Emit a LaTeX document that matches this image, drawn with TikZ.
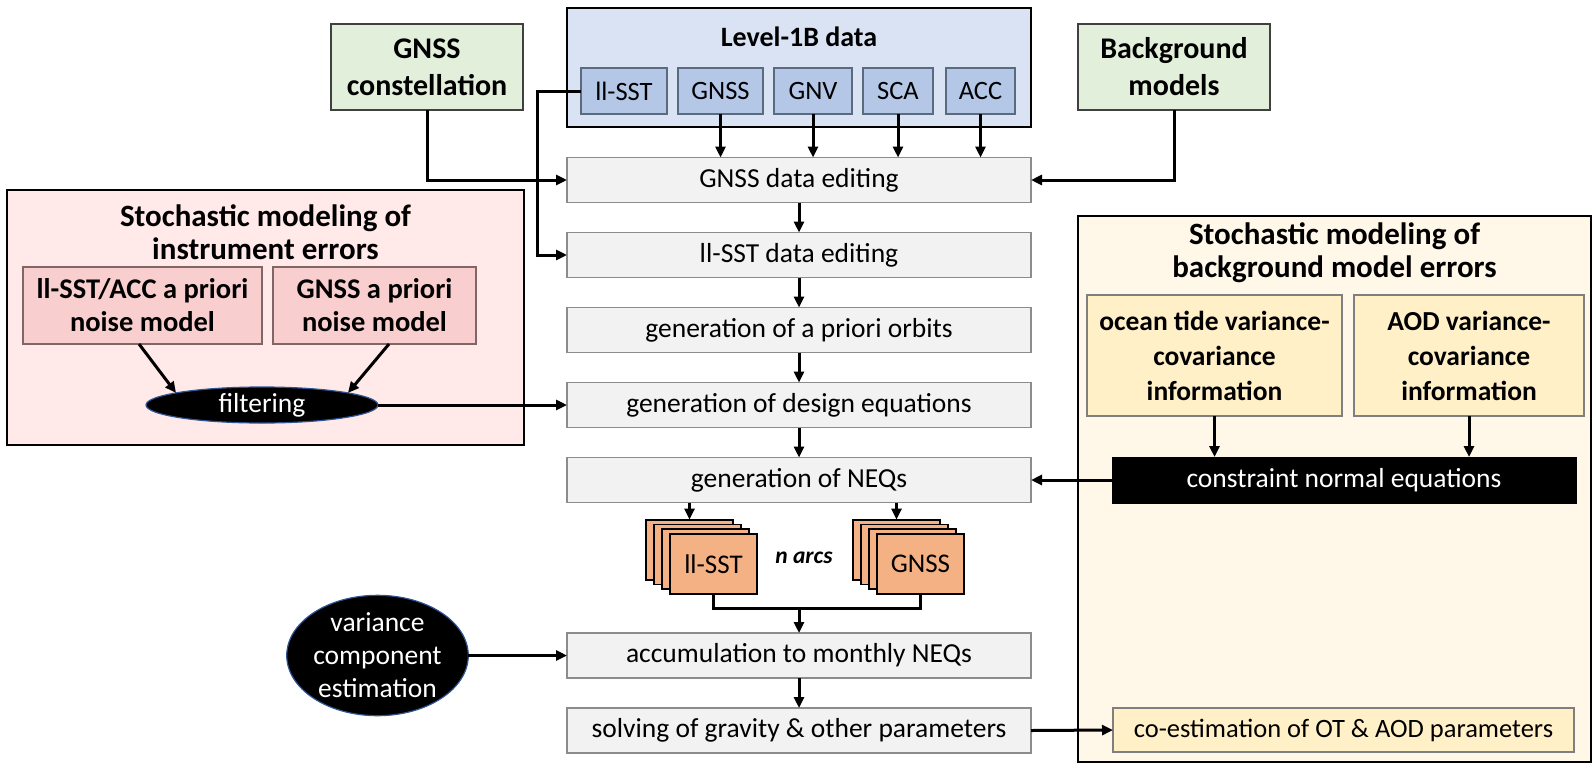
\documentclass[tikz,border=0pt]{standalone}
\usepackage{fontspec}
\setmainfont{Carlito}
\usetikzlibrary{arrows.meta,shapes.geometric}
\definecolor{greenF}{HTML}{E2EFDA}
\definecolor{blueOut}{HTML}{DAE3F3}
\definecolor{blueIn}{HTML}{B4C7E7}
\definecolor{blueLine}{HTML}{5A6B80}
\definecolor{grayF}{HTML}{F2F2F2}
\definecolor{grayLine}{HTML}{8C8C8C}
\definecolor{pinkOut}{HTML}{FFE9E9}
\definecolor{pinkIn}{HTML}{F9CECE}
\definecolor{pinkLine}{HTML}{806666}
\definecolor{yelOut}{HTML}{FFF7E8}
\definecolor{yelIn}{HTML}{FFF0C8}
\definecolor{yelLine}{HTML}{7F7F7F}
\definecolor{orangeF}{HTML}{F4B183}
\definecolor{ellLine}{HTML}{2F5597}
\tikzset{
  box/.style={rectangle,inner sep=0pt,outer sep=0pt,align=center},
  txt/.style={font=\fontsize{27.5}{32}\selectfont},
  btitle/.style={font=\bfseries\fontsize{31}{33}\selectfont},
  greenbox/.style={box,fill=greenF,draw=black!75,line width=1.3pt,font=\bfseries\fontsize{30}{37}\selectfont},
  bluebox/.style={box,fill=blueIn,draw=blueLine,line width=1.2pt,font=\fontsize{26.5}{30}\selectfont},
  graybox/.style={box,fill=grayF,draw=grayLine,line width=1.4pt,minimum width=464,minimum height=45,txt},
  pinkbox/.style={box,fill=pinkIn,draw=pinkLine,line width=1.1pt,font=\bfseries\fontsize{28.5}{33}\selectfont},
  yelbox/.style={box,fill=yelIn,draw=yelLine,line width=1.1pt,font=\bfseries\fontsize{27.5}{35}\selectfont},
  blackbox/.style={box,fill=black,draw=black,text=white,txt},
  blackell/.style={ellipse,inner sep=0pt,outer sep=0pt,fill=black,draw=ellLine,line width=1.2pt,text=white,align=center,font=\fontsize{27.5}{33}\selectfont},
  orbox/.style={box,fill=orangeF,draw=black,line width=1.8pt,minimum width=87,minimum height=60,font=\fontsize{27}{32}\selectfont},
  arr/.style={line width=3pt,-{Triangle[length=11pt,width=10pt]}},
  ln/.style={line width=3pt}
}
\begin{document}
\begin{tikzpicture}[x=1pt,y=-1pt]
\useasboundingbox (0,0) rectangle (1594,763);
% frames
\node[box,fill=pinkOut,draw=black,line width=1.6pt,minimum width=517,minimum height=255] (pinkframe) at (265.5,317.5) {};
\node[btitle,align=center] (pinktitle) at (265.5,232.5) {Stochastic modeling of\\instrument errors};
\node[box,fill=yelOut,draw=black,line width=1.6pt,minimum width=513,minimum height=546] (yelframe) at (1334.5,489) {};
\node[btitle,align=center] (yeltitle) at (1334.5,253) {Stochastic modeling of\\background model errors};
\node[box,fill=blueOut,draw=black,line width=1.8pt,minimum width=464,minimum height=119] (l1b) at (799,67.5) {};
\node[font=\bfseries\fontsize{28}{32}\selectfont] (l1btitle) at (799,37) {Level-1B data};
% top inputs
\node[greenbox,minimum width=192,minimum height=86] (gc) at (427,67) {GNSS\\constellation};
\node[greenbox,minimum width=192,minimum height=86] (bg) at (1174,67) {Background\\models};
\node[bluebox,minimum width=86,minimum height=46] (bsst) at (624,91) {ll-SST};
\node[bluebox,minimum width=85,minimum height=46] (bgnss) at (720.5,91) {GNSS};
\node[bluebox,minimum width=78,minimum height=46] (bgnv) at (813,91) {GNV};
\node[bluebox,minimum width=70,minimum height=46] (bsca) at (898,91) {SCA};
\node[bluebox,minimum width=69,minimum height=46] (bacc) at (980.5,91) {ACC};
% main chain
\node[graybox] (ged) at (799,180) {GNSS data editing};
\node[graybox] (sed) at (799,255) {ll-SST data editing};
\node[graybox] (orb) at (799,330) {generation of a priori orbits};
\node[graybox] (des) at (799,405) {generation of design equations};
\node[graybox] (neq) at (799,480) {generation of NEQs};
\node[graybox] (acc) at (799,655.5) {accumulation to monthly NEQs};
\node[graybox] (sol) at (799,730.5) {solving of gravity \& other parameters};
% stacks
\node[orbox] (s3) at (689.5,549.6) {};
\node[orbox] (s2) at (697.5,554.4) {};
\node[orbox] (s1) at (705.5,559.2) {};
\node[orbox] (s0) at (713.5,564) {ll-SST};
\node[orbox] (g3) at (896.5,549.6) {};
\node[orbox] (g2) at (904.5,554.4) {};
\node[orbox] (g1) at (912.5,559.2) {};
\node[orbox] (g0) at (920.5,564) {GNSS};
\node[font=\bfseries\itshape\fontsize{23.5}{28}\selectfont] (narcs) at (804,558) {n arcs};
% pink content
\node[pinkbox,minimum width=239,minimum height=77] (pn1) at (142.5,305.5) {ll-SST/ACC a priori\\noise model};
\node[pinkbox,minimum width=203,minimum height=77] (pn2) at (374.5,305.5) {GNSS a priori\\noise model};
\node[blackell,minimum width=232,minimum height=36] (filt) at (262,405) {filtering};
% yellow content
\node[yelbox,minimum width=255,minimum height=121] (ot) at (1214.5,355.5) {ocean tide variance-\\covariance\\information};
\node[yelbox,minimum width=230,minimum height=121] (aod) at (1469,355.5) {AOD variance-\\covariance\\information};
\node[blackbox,minimum width=464,minimum height=46] (cne) at (1344,480) {constraint normal equations};
\node[box,fill=yelIn,draw=yelLine,line width=1.1pt,minimum width=461,minimum height=44,font=\fontsize{26.5}{30}\selectfont] (coe) at (1343.5,730) {co-estimation of OT \& AOD parameters};
% variance ellipse
\node[blackell,minimum width=177,minimum height=120] (vce) at (377.5,655.5) {variance\\component\\estimation};
% connectors
\coordinate (sstbend) at (537,91);
\draw[arr] (gc.south) |- (ged.west);
\draw[arr] (bg.south) |- (ged.east);
\draw[arr] (bsst.west) -- (sstbend) |- (sed.west);
\draw[arr] (bgnss.south) -- (bgnss.south |- ged.north);
\draw[arr] (bgnv.south) -- (bgnv.south |- ged.north);
\draw[arr] (bsca.south) -- (bsca.south |- ged.north);
\draw[arr] (bacc.south) -- (bacc.south |- ged.north);
\draw[arr] (ged) -- (sed);
\draw[arr] (sed) -- (orb);
\draw[arr] (orb) -- (des);
\draw[arr] (des) -- (neq);
\draw[arr] (s3.north |- neq.south) -- (s3.north);
\draw[arr] (g3.north |- neq.south) -- (g3.north);
\coordinate (join) at (799,608);
\draw[ln] (s0.south) |- (join) -| (g0.south);
\draw[arr] (join) -- (acc.north);
\draw[arr] (acc) -- (sol);
\draw[arr] ([xshift=116pt]pn1.south west) -- (filt.172);
\draw[arr] ([xshift=116pt]pn2.south west) -- (filt.8);
\draw[arr] (filt.east) -- (des.west);
\draw[arr] (ot.south) -- (ot.south |- cne.north);
\draw[arr] (aod.south) -- (aod.south |- cne.north);
\draw[arr] (cne.west) -- (neq.east);
\draw[arr] (vce.east) -- (acc.west);
\draw[arr] (sol.east) -- (coe.west);
\end{tikzpicture}
\end{document}
